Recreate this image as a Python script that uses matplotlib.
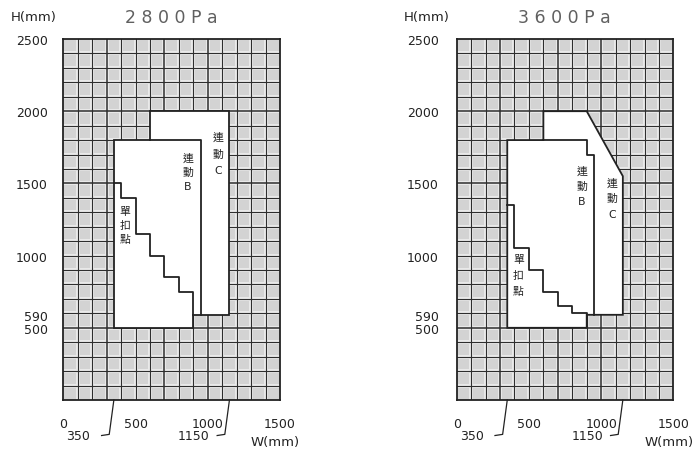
import numpy as np
import matplotlib
matplotlib.use("Agg")
import matplotlib.pyplot as plt
from matplotlib.patches import Polygon

plt.rcParams['font.family'] = ['DejaVu Sans', 'Noto Sans CJK TC']

# panel titles
titles = ['2800Pa', '3600Pa']

# axis ticks (mm)
x_ticks = [0, 500, 1000, 1500]
y_ticks = [500, 590, 1000, 1500, 2000, 2500]
x_marks = [350, 1150]   # extra width marks with leader lines

# outer outline of the white area (W, H in mm)
outer_w = [[350, 350, 600, 600, 1150, 1150, 900, 900],
           [350, 350, 600, 600, 900, 1150, 1150, 900, 900]]
outer_h = [[500, 1800, 1800, 2000, 2000, 590, 590, 500],
           [500, 1800, 1800, 2000, 2000, 1550, 590, 590, 500]]

# 連動B boundary
b_w = [[600, 950, 950],
       [600, 900, 900, 950, 950]]
b_h = [[1800, 1800, 590],
       [1800, 1800, 1700, 1700, 590]]

# 單扣點 stair boundary
s_w = [[350, 400, 400, 500, 500, 600, 600, 700, 700, 800, 800, 900, 900],
       [350, 400, 400, 500, 500, 600, 600, 700, 700, 800, 800, 900, 900]]
s_h = [[1500, 1500, 1400, 1400, 1150, 1150, 1000, 1000, 850, 850, 750, 750, 590],
       [1350, 1350, 1050, 1050, 900, 900, 750, 750, 650, 650, 600, 600, 590]]

region_labels = ['連動C', '連動B', '單扣點']

# label anchor (x, top char y, step) per panel
label_pos = [
    [(1073, 1823, -116), (861, 1680, -100), (427, 1311, -98)],
    [(1073, 1507, -108), (865, 1588, -104), (427, 976, -110)],
]

W, H = 694, 452
fig = plt.figure(figsize=(W / 100, H / 100), dpi=100)
fig.patch.set_facecolor('white')

ax_left_px = [63.3, 456.7]
ax_w_px, ax_top_px, ax_bot_px = 216.7, 40, 401

for i in range(2):
    x0 = ax_left_px[i]
    ax = fig.add_axes([x0 / W, 1 - ax_bot_px / H, ax_w_px / W,
                       (ax_bot_px - ax_top_px) / H])
    ax.set_xlim(0, 1500)
    ax.set_ylim(0, 2500)
    ax.set_facecolor('#d3d3d3')

    # grid: light band + dark line gives the scanned cell look
    for gx in range(100, 1500, 100):
        ax.axvline(gx, color='#ebebeb', lw=2.8, zorder=1)
    for gy in range(100, 2500, 100):
        ax.axhline(gy, color='#ebebeb', lw=2.8, zorder=1)
    for gx in range(100, 1500, 100):
        lw = 1.1 if gx in (300, 700, 1000) else 0.8
        ax.axvline(gx, color='#2e2e2e', lw=lw, zorder=2)
    for gy in range(100, 2500, 100):
        lw = 1.1 if gy in (500, 1500, 2000) else 0.8
        ax.axhline(gy, color='#2e2e2e', lw=lw, zorder=2)

    pts = np.column_stack([outer_w[i], outer_h[i]])
    ax.add_patch(Polygon(pts, closed=True, facecolor='white',
                         edgecolor='#222222', lw=1.3, zorder=3))
    ax.plot(b_w[i], b_h[i], color='#222222', lw=1.3, zorder=4)
    ax.plot(s_w[i], s_h[i], color='#222222', lw=1.3, zorder=4)

    for sp in ax.spines.values():
        sp.set_color('#222222')
        sp.set_linewidth(1.3)
        sp.set_zorder(5)

    ax.set_xticks(x_ticks)
    ax.set_yticks(y_ticks)
    ax.set_xticklabels([str(v) for v in x_ticks])
    ax.set_yticklabels([str(v) for v in y_ticks])
    ax.tick_params(length=0, labelsize=9, colors='#222222')
    ax.tick_params(axis='x', pad=12)
    ax.tick_params(axis='y', pad=11 if i == 0 else 13)

    # vertical region labels
    for lab, (lx, ly, step) in zip(region_labels, label_pos[i]):
        for k, ch in enumerate(lab):
            ax.text(lx, ly + k * step, ch, ha='center', va='center',
                    fontsize=7.8, color='#222222', zorder=6)

    # leader lines for 350 / 1150
    for xm in x_marks:
        ax.plot([xm, xm - 32, xm - 85], [0, -238, -246], color='#222222',
                lw=0.9, clip_on=False)
        ax.text(xm - 245, -248, str(xm), ha='center', va='center',
                fontsize=9, color='#222222')

    # axis names and title
    fig.text((x0 - 30) / W, 1 - 18 / H, 'H(mm)', ha='center', va='center',
             fontsize=9.5, color='#222222')
    fig.text((x0 + 212) / W, 1 - 443 / H, 'W(mm)', ha='center', va='center',
             fontsize=9.5, color='#222222')
    fig.text((x0 + 108) / W, 1 - 18 / H, ' '.join(titles[i]), ha='center',
             va='center', fontsize=12.5, color='#606060')

fig.savefig('out.png', dpi=100)
